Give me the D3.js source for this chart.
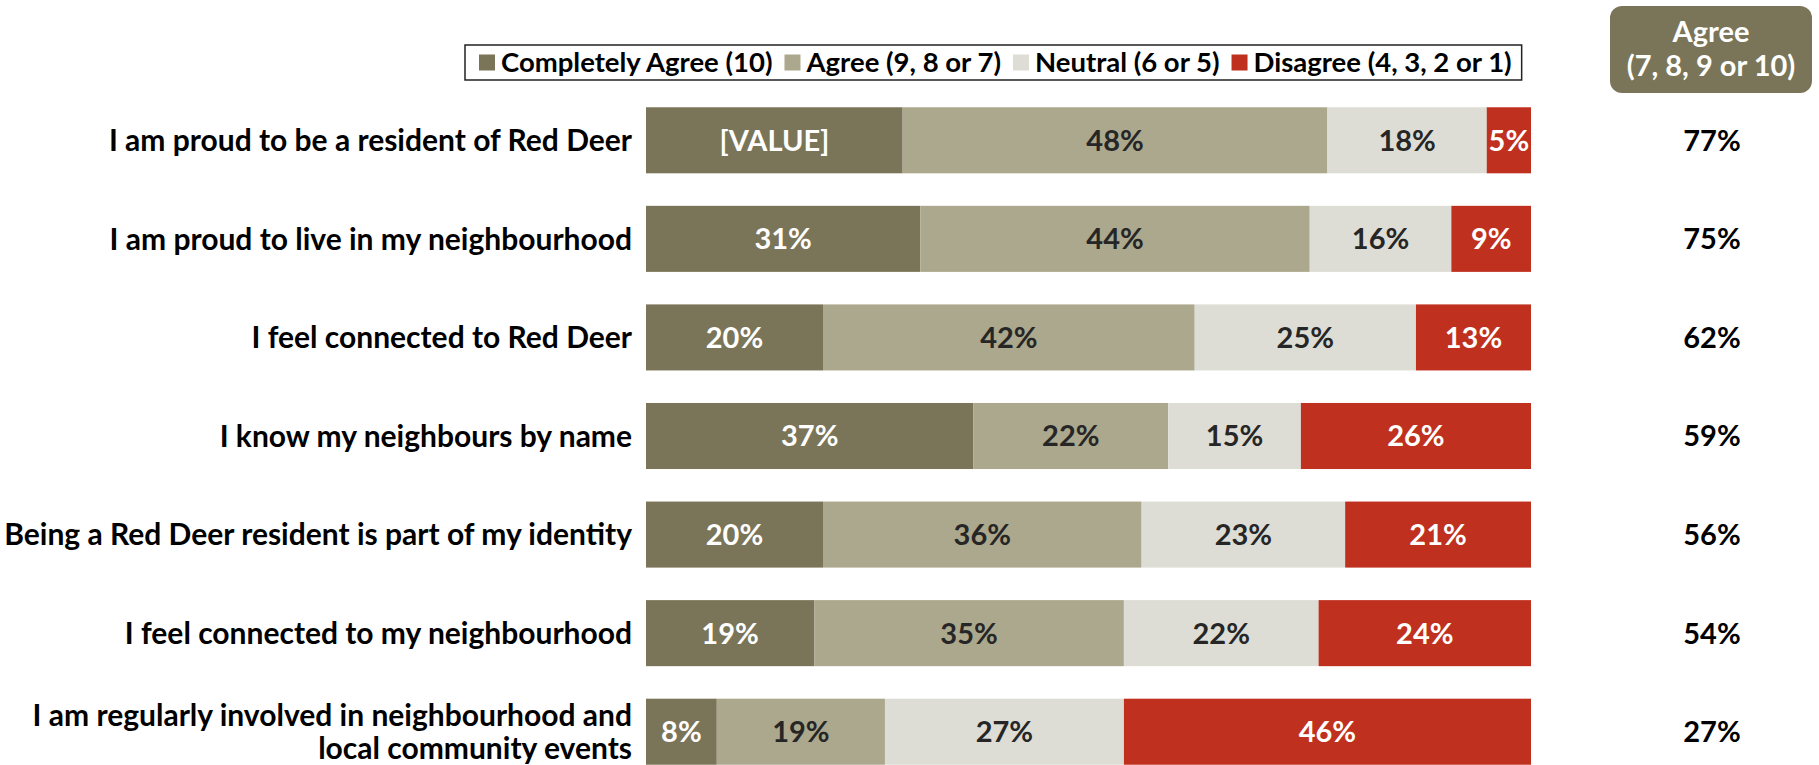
<!DOCTYPE html>
<html>
<head>
<meta charset="utf-8">
<script src="https://cdn.jsdelivr.net/npm/d3@7"></script>
<style>
  body { margin: 0; background: #fff; }
  text { font-family: Lato, "Open Sans", sans-serif; font-weight: bold; }
</style>
</head>
<body>
<div id="chart"></div>
<script>
// statements (rows, top to bottom)
var categories = [
  "I am proud to be a resident of Red Deer",
  "I am proud to live in my neighbourhood",
  "I feel connected to Red Deer",
  "I know my neighbours by name",
  "Being a Red Deer resident is part of my identity",
  "I feel connected to my neighbourhood",
  "I am regularly involved in neighbourhood and local community events"
];
var seriesNames = ["Completely Agree (10)", "Agree (9, 8 or 7)", "Neutral (6 or 5)", "Disagree (4, 3, 2 or 1)"];
var completelyAgree = [29, 31, 20, 37, 20, 19, 8];
var agree           = [48, 44, 42, 22, 36, 35, 19];
var neutral         = [18, 16, 25, 15, 23, 22, 27];
var disagree        = [5, 9, 13, 26, 21, 24, 46];
var agreeTotal      = [77, 75, 62, 59, 56, 54, 27];
var totalHeader = ["Agree", "(7, 8, 9 or 10)"];
// the first segment in the source shows a placeholder instead of its number
var placeholderLabel = "[VALUE]";

var colors = ["#7a7558", "#aca88d", "#ddddd5", "#c0301e"];
var textColors = ["#fff", "#262626", "#262626", "#fff"];

var width = 1819, height = 765;

var data = categories.map(function(c, i) {
  return { cat: c, s0: completelyAgree[i], s1: agree[i], s2: neutral[i], s3: disagree[i], i: i };
});
var keys = ["s0", "s1", "s2", "s3"];
var stacked = d3.stack().keys(keys)(data);

var svg = d3.select("#chart").append("svg")
    .attr("width", width)
    .attr("height", height);

var x = d3.scaleLinear().domain([0, 100]).range([646, 1531]);
var y = d3.scaleBand().domain(categories).range([91, 781])
    .paddingInner(0.33).paddingOuter(0.165);

// bars
var layers = svg.selectAll(".layer")
    .data(stacked)
  .enter().append("g")
    .attr("class", "layer")
    .attr("fill", function(d, k) { return colors[k]; });

layers.selectAll("rect")
    .data(function(d) { return d; })
  .enter().append("rect")
    .attr("x", function(d) { return x(d[0]); })
    .attr("y", function(d) { return y(d.data.cat); })
    .attr("width", function(d) { return x(d[1]) - x(d[0]); })
    .attr("height", y.bandwidth());

// segment labels
layers.each(function(layer, k) {
  d3.select(this).selectAll("text")
      .data(layer)
    .enter().append("text")
      .attr("x", function(d) { return (x(d[0]) + x(d[1])) / 2; })
      .attr("y", function(d) { return y(d.data.cat) + y.bandwidth() / 2; })
      .attr("dy", "0.36em")
      .attr("text-anchor", "middle")
      .attr("fill", textColors[k])
      .style("font-size", "29px")
      .text(function(d) {
        if (k === 0 && d.data.i === 0) return placeholderLabel;
        return (d[1] - d[0]) + "%";
      });
});

// category labels (wrapped when too long)
svg.selectAll(".cat")
    .data(categories)
  .enter().append("text")
    .attr("class", "cat")
    .attr("text-anchor", "end")
    .attr("fill", "#000")
    .style("font-size", "30px")
    .each(function(c) {
      var el = d3.select(this);
      var words = c.split(" "), lines = [], line = [];
      words.forEach(function(w) {
        line.push(w);
        el.text(line.join(" "));
        if (this.getComputedTextLength() > 645 && line.length > 1) {
          line.pop();
          lines.push(line.join(" "));
          line = [w];
        }
      }, this);
      lines.push(line.join(" "));
      el.text(null);
      var cy = y(c) + y.bandwidth() / 2;
      var lh = 33;
      lines.forEach(function(l, j) {
        el.append("tspan")
          .attr("x", 632)
          .attr("y", cy + (j - (lines.length - 1) / 2) * lh)
          .attr("dy", "0.36em")
          .text(l);
      });
    });

// agree totals column
svg.selectAll(".total")
    .data(agreeTotal)
  .enter().append("text")
    .attr("class", "total")
    .attr("x", 1712)
    .attr("y", function(d, i) { return y(categories[i]) + y.bandwidth() / 2; })
    .attr("dy", "0.36em")
    .attr("text-anchor", "middle")
    .style("font-size", "29px")
    .text(function(d) { return d + "%"; });

// header box for totals
svg.append("rect")
    .attr("x", 1610).attr("y", 6)
    .attr("width", 202).attr("height", 87)
    .attr("rx", 12).attr("ry", 12)
    .attr("fill", "#7a7558");
svg.selectAll(".hdr")
    .data(totalHeader)
  .enter().append("text")
    .attr("class", "hdr")
    .attr("x", 1711)
    .attr("y", function(d, i) { return 32 + i * 34; })
    .attr("dy", "0.36em")
    .attr("text-anchor", "middle")
    .attr("fill", "#fff")
    .style("font-size", "29px")
    .text(function(d) { return d; });

// legend
var legend = svg.append("g");
var legendBox = legend.append("rect")
    .attr("fill", "#fff")
    .attr("stroke", "#222")
    .attr("stroke-width", 1.5);
var lx = 479, ly = 62.5;
seriesNames.forEach(function(name, k) {
  legend.append("rect")
    .attr("x", lx).attr("y", ly - 8)
    .attr("width", 16).attr("height", 16)
    .attr("fill", colors[k]);
  var t = legend.append("text")
    .attr("x", lx + 22).attr("y", ly)
    .attr("dy", "0.36em")
    .style("font-size", "27.5px")
    .text(name);
  lx += 22 + t.node().getComputedTextLength() + 12;
});
legendBox.attr("x", 465).attr("y", 45)
    .attr("width", lx - 12 + 10 - 465).attr("height", 35);
</script>
</body>
</html>
